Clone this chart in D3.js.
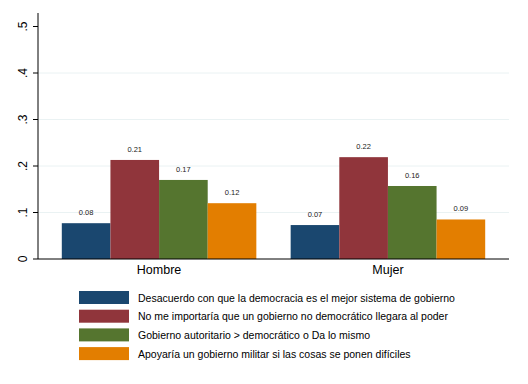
<!DOCTYPE html>
<html>
<head>
<meta charset="utf-8">
<script src="https://cdn.jsdelivr.net/npm/d3@7"></script>
<style>
  body { margin: 0; background: #fff; }
  svg { display: block; font-family: "Liberation Sans", Arial, sans-serif; }
</style>
</head>
<body>
<svg id="chart" width="528" height="384"></svg>
<script>
const groups = ["Hombre", "Mujer"];
const seriesNames = [
  "Desacuerdo con que la democracia es el mejor sistema de gobierno",
  "No me importaría que un gobierno no democrático llegara al poder",
  "Gobierno autoritario > democrático o Da lo mismo",
  "Apoyaría un gobierno militar si las cosas se ponen difíciles"
];
const hombre = [0.077, 0.213, 0.170, 0.120];
const mujer = [0.073, 0.219, 0.157, 0.085];
const valueLabels = [["0.08", "0.21", "0.17", "0.12"], ["0.07", "0.22", "0.16", "0.09"]];
const yTicks = [0, 0.1, 0.2, 0.3, 0.4, 0.5];
const yTickLabels = ["0", ".1", ".2", ".3", ".4", ".5"];
const colors = ["#1a476f", "#90353b", "#55752f", "#e37e00"];

const svg = d3.select("#chart");
const plotLeft = 38, plotRight = 509, plotBottom = 259, plotTop = 13;

const y = d3.scaleLinear().domain([0, 0.5]).range([plotBottom, 26.5]);
const x0 = d3.scaleBand().domain(groups).range([plotLeft, plotRight])
  .paddingInner(0.15).paddingOuter(0.104);
const x1 = d3.scaleBand().domain(d3.range(4)).range([0, x0.bandwidth()]);

// gridlines
svg.append("g").selectAll("line")
  .data(yTicks.filter(d => d > 0 && d < 0.5))
  .join("line")
  .attr("x1", plotLeft).attr("x2", plotRight)
  .attr("y1", d => y(d)).attr("y2", d => y(d))
  .attr("stroke", "#eaf2f3").attr("stroke-width", 1);

// bars
const data = [hombre, mujer];
const gGroup = svg.append("g").selectAll("g")
  .data(groups)
  .join("g")
  .attr("transform", d => `translate(${x0(d)},0)`);

gGroup.selectAll("rect")
  .data((g, gi) => data[gi].map((v, i) => ({ v, i, gi })))
  .join("rect")
  .attr("x", d => x1(d.i))
  .attr("width", x1.bandwidth())
  .attr("y", d => y(d.v))
  .attr("height", d => y(0) - y(d.v))
  .attr("fill", d => colors[d.i]);

gGroup.selectAll("text")
  .data((g, gi) => data[gi].map((v, i) => ({ v, i, gi })))
  .join("text")
  .attr("x", d => x1(d.i) + x1.bandwidth() / 2)
  .attr("y", d => y(d.v) - 8)
  .attr("text-anchor", "middle")
  .attr("font-size", 7.5)
  .attr("fill", "#222")
  .text(d => valueLabels[d.gi][d.i]);

// y axis
const yAxis = svg.append("g");
yAxis.append("line")
  .attr("x1", plotLeft).attr("x2", plotLeft).attr("y1", plotTop).attr("y2", plotBottom)
  .attr("stroke", "#000");
yAxis.selectAll(".tick")
  .data(yTicks)
  .join("line")
  .attr("class", "tick")
  .attr("x1", plotLeft - 5).attr("x2", plotLeft)
  .attr("y1", d => y(d)).attr("y2", d => y(d))
  .attr("stroke", "#000");
yAxis.selectAll("text")
  .data(yTicks)
  .join("text")
  .attr("transform", d => `translate(27,${y(d)}) rotate(-90)`)
  .attr("text-anchor", "middle")
  .attr("font-size", 12)
  .attr("fill", "#000")
  .text((d, i) => yTickLabels[i]);

// x axis
svg.append("line")
  .attr("x1", plotLeft).attr("x2", plotRight).attr("y1", plotBottom).attr("y2", plotBottom)
  .attr("stroke", "#000");
svg.append("g").selectAll("text")
  .data(groups)
  .join("text")
  .attr("x", d => x0(d) + x0.bandwidth() / 2)
  .attr("y", 274)
  .attr("text-anchor", "middle")
  .attr("font-size", 12.5)
  .attr("fill", "#000")
  .text(d => d);

// legend
const legend = svg.append("g").selectAll("g")
  .data(seriesNames)
  .join("g")
  .attr("transform", (d, i) => `translate(79,${291 + i * 18.7})`);
legend.append("rect")
  .attr("width", 50).attr("height", 13)
  .attr("fill", (d, i) => colors[i]);
legend.append("text")
  .attr("x", 59).attr("y", 10.5)
  .attr("font-size", 10.5)
  .attr("fill", "#000")
  .text(d => d);
</script>
</body>
</html>
